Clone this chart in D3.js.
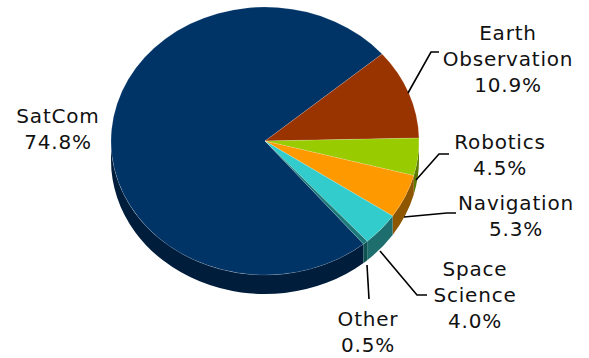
<!DOCTYPE html>
<html>
<head>
<meta charset="utf-8">
<script src="https://cdn.jsdelivr.net/npm/d3@7"></script>
<style>
  html, body { margin: 0; padding: 0; background: #ffffff; }
  svg { display: block; }
  text { font-family: "DejaVu Sans", Verdana, sans-serif; font-size: 20px; fill: #111; letter-spacing: 0.8px; }
</style>
</head>
<body>
<div id="chart"></div>
<script>
// Share of activity by segment (percent)
const categories = ["SatCom", "Earth Observation", "Robotics", "Navigation", "Space Science", "Other"];
const values = [74.8, 10.9, 4.5, 5.3, 4.0, 0.5];
const topColors = ["#003366", "#993300", "#99cc00", "#ff9900", "#33cccc", "#1c7a7a"];
const sideColors = ["#001d3b", "#5a1e00", "#5b7a00", "#8f5600", "#1f6e6e", "#0e5252"];
const labelLines = [["SatCom"], ["Earth", "Observation"], ["Robotics"], ["Navigation"], ["Space", "Science"], ["Other"]];

const W = 589, H = 358;
const cx = 265, cy = 141, rx = 154, ry = 134, depth = 19;

// Label anchors (centre x, first baseline) and leader polylines
const labelPos = [
  { x: 58, y: 123, lead: null },
  { x: 508, y: 40, lead: [[408, 93], [431, 52], [439, 52]] },
  { x: 500, y: 149, lead: [[416, 180], [439, 154], [449, 154]] },
  { x: 516, y: 210, lead: [[404, 217], [447, 213], [456, 213]] },
  { x: 475, y: 276, lead: [[380, 251], [417, 295], [427, 295]] },
  { x: 368, y: 326, lead: [[367, 265], [369, 299]] }
];

const svg = d3.select("#chart").append("svg").attr("width", W).attr("height", H);

const deg = Math.PI / 180;
// SatCom starts so that Earth Observation begins at 49.5° clockwise from top
const start = 49.5 * deg - (values[0] / 100) * 2 * Math.PI;
const pie = d3.pie().sort(null).value(d => d).startAngle(start).endAngle(start + 2 * Math.PI);
const arcs = pie(values);

const pt = (a, dy = 0) => [cx + rx * Math.sin(a), cy - ry * Math.cos(a) + dy];

// Outer walls: only the front half (90°..270° from top) is visible
const frontA = 90 * deg, frontB = 270 * deg;
function wallPath(a0, a1) {
  // normalise into [0, 2π) window that may straddle the front
  const segs = [];
  for (const k of [-1, 0, 1]) {
    const s = Math.max(a0 + k * 2 * Math.PI, frontA);
    const e = Math.min(a1 + k * 2 * Math.PI, frontB);
    if (e > s) segs.push([s, e]);
  }
  return segs.map(([s, e]) => {
    const large = e - s > Math.PI ? 1 : 0;
    const p0 = pt(s), p1 = pt(e), q1 = pt(e, depth), q0 = pt(s, depth);
    return `M${p0}A${rx},${ry} 0 ${large} 1 ${p1}L${q1}A${rx},${ry} 0 ${large} 0 ${q0}Z`;
  }).join("");
}

svg.append("g").selectAll("path")
  .data(arcs)
  .join("path")
  .attr("d", d => wallPath(d.startAngle, d.endAngle))
  .attr("fill", (d, i) => sideColors[i]);

// Top faces
function topPath(a0, a1) {
  const large = a1 - a0 > Math.PI ? 1 : 0;
  return `M${cx},${cy}L${pt(a0)}A${rx},${ry} 0 ${large} 1 ${pt(a1)}Z`;
}
svg.append("g").selectAll("path")
  .data(arcs)
  .join("path")
  .attr("d", d => topPath(d.startAngle, d.endAngle))
  .attr("fill", (d, i) => topColors[i])
  .attr("stroke", "rgba(255,255,255,0.25)")
  .attr("stroke-width", 0.6);

// Leader lines
const line = d3.line();
svg.append("g").selectAll("path")
  .data(labelPos.filter(p => p.lead))
  .join("path")
  .attr("d", p => line(p.lead))
  .attr("fill", "none")
  .attr("stroke", "#000")
  .attr("stroke-width", 1.6);

// Labels: category name lines followed by the percentage
const lineH = 26;
const lg = svg.append("g").selectAll("text")
  .data(arcs)
  .join("text")
  .attr("text-anchor", "middle");
lg.each(function (d, i) {
  const t = d3.select(this);
  const lines = labelLines[i].concat([d3.format(".1f")(values[i]) + "%"]);
  lines.forEach((s, j) => {
    t.append("tspan")
      .attr("x", labelPos[i].x)
      .attr("y", labelPos[i].y + j * lineH)
      .text(s);
  });
});
</script>
</body>
</html>
